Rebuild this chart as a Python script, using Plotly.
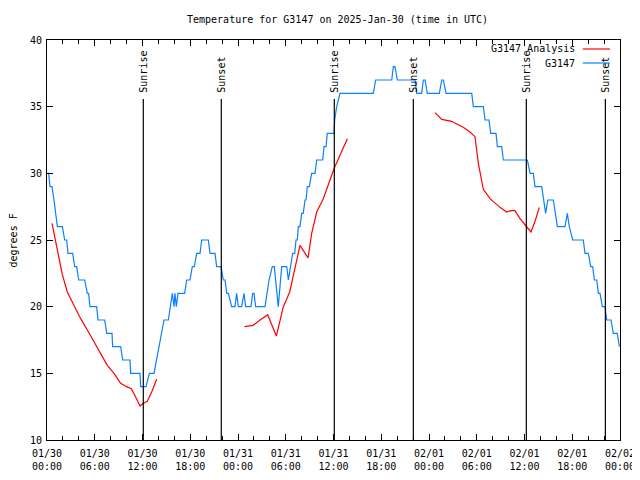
import plotly.graph_objects as go
import pandas as pd

START = pd.Timestamp("2025-01-30 00:00")
END = pd.Timestamp("2025-02-02 00:00")

# Observed G3147 temperature (hours after start, deg F)
obs_hours = [0.04, 0.21, 0.38, 0.63, 0.88, 1.13, 1.30, 1.93, 2.22, 2.47, 2.64, 3.23, 3.48, 3.73, 3.98, 4.73,
             5.07, 5.23, 5.40, 6.24, 6.41, 7.25, 7.50, 8.17, 8.25, 9.26, 9.51, 10.43, 10.51, 11.69, 11.77, 12.44,
             12.86, 13.45, 13.74, 14.07, 14.37, 14.70, 15.25, 15.46, 15.75, 15.96, 16.08, 16.25, 16.46, 17.30,
             17.55, 17.97, 18.26, 18.51, 18.81, 19.23, 19.44, 20.27, 20.48, 21.11, 21.32, 21.86, 22.16, 22.37,
             22.58, 22.79, 23.20, 23.62, 23.83, 24.04, 24.46, 24.75, 24.96, 25.63, 25.85, 26.01, 26.22, 27.39,
             27.60, 27.90, 28.31, 28.56, 29.06, 29.49, 30.12, 30.33, 30.87, 31.12, 31.29, 31.45, 31.58, 31.79,
             32.00, 32.20, 32.42, 32.55, 32.71, 32.96, 33.26, 33.68, 33.89, 34.64, 34.81, 35.06, 35.22, 36.06,
             36.15, 36.40, 36.82, 41.00, 41.30, 43.32, 43.52, 43.73, 44.02, 46.24, 46.46, 47.08, 47.29, 47.50,
             47.79, 49.30, 49.60, 49.80, 50.14, 53.37, 53.57, 54.83, 55.04, 55.54, 55.75, 56.42, 56.59, 57.14,
             57.34, 60.36, 60.70, 61.11, 61.32, 62.16, 62.66, 62.92, 63.62, 63.84, 64.13, 65.09, 65.38, 65.63,
             66.06, 67.39, 67.60, 68.02, 68.32, 68.57, 68.78, 69.08, 69.28, 69.49, 69.78, 70.12, 70.33, 70.87,
             71.16, 71.66, 71.92]
obs_temps = [30, 30, 29, 29, 28, 27, 26, 26, 25, 25, 24, 24, 23, 23, 22, 22,
             21, 21, 20, 20, 19, 19, 18, 18, 17, 17, 16, 16, 15, 15, 14, 14,
             15, 15, 16, 17, 18, 19, 19, 20, 21, 20, 21, 20, 21, 21,
             22, 22, 23, 23, 24, 24, 25, 25, 24, 24, 23, 23, 22, 22,
             21, 21, 20, 20, 21, 20, 20, 21, 20, 20, 21, 21, 20, 20,
             21, 22, 23, 23, 20, 23, 23, 22, 24, 24, 25, 25, 26, 26,
             27, 27, 28, 28, 29, 29, 30, 30, 31, 31, 32, 32, 33, 33,
             34, 35, 36, 36, 37, 37, 38, 38, 37, 37, 36, 36, 37, 37,
             36, 36, 37, 37, 36, 36, 35, 35, 34, 34, 33, 33, 32, 32,
             31, 31, 30, 30, 29, 29, 27, 28, 28, 27, 26, 26, 27, 26,
             25, 25, 24, 24, 23, 23, 22, 22, 21, 21, 20, 20, 19, 19,
             18, 18, 17]

# Analysis series (None = gap)
ana_hours = [0.63, 1.09, 1.51, 1.93, 2.55, 3.39, 4.23, 5.07, 5.90, 6.74, 7.58, 8.42, 9.26, 10.0, 10.6, 11.0,
             11.69, 12.1, 12.6, 13.15, 13.78, None,
             24.8, 25.9, 26.77, 27.73, 28.82, 29.7, 30.5, 31.79, 32.8, 33.26, 33.89, 34.72, 36.1, 37.74, None,
             48.76, 49.6, 50.85, 52.3, 53.15, 53.78, 54.2, 54.83, 55.67, 56.92, 57.76, 58.3, 58.8, 59.44, 60.19,
             60.82, 61.32, 61.86]
ana_temps = [26.25, 24.9, 23.6, 22.4, 21.1, 20.1, 19.1, 18.25, 17.4, 16.5, 15.6, 15.0, 14.25, 14.0, 13.85, 13.4,
             12.55, 12.75, 12.9, 13.6, 14.55, None,
             18.5, 18.6, 19.0, 19.4, 17.8, 20.0, 21.1, 24.6, 23.65, 25.5, 27.1, 28.1, 30.4, 32.6, None,
             34.55, 34.05, 33.9, 33.45, 33.1, 32.75, 30.75, 28.8, 28.1, 27.45, 27.1, 27.2, 27.2, 26.6, 26.05,
             25.6, 26.4, 27.45]

event_hours = [12.1, 21.9, 36.1, 46.03, 60.23, 70.16]
event_labels = ["Sunrise", "Sunset", "Sunrise", "Sunset", "Sunrise", "Sunset"]

legend_names = ["G3147 Analysis", "G3147"]
RED = "#ff0000"
BLUE = "#0a80ff"
FONT = "DejaVu Sans Mono"
FS = 10


def to_time(hours):
    return [None if h is None else START + pd.Timedelta(hours=h) for h in hours]


fig = go.Figure()
fig.add_trace(go.Scatter(x=to_time(ana_hours), y=ana_temps, mode="lines", name=legend_names[0],
                         line=dict(color=RED, width=1.2), connectgaps=False))
fig.add_trace(go.Scatter(x=to_time(obs_hours), y=obs_temps, mode="lines", name=legend_names[1],
                         line=dict(color=BLUE, width=1.2)))

shapes = []
annotations = []
for h, lab in zip(event_hours, event_labels):
    t = START + pd.Timedelta(hours=h)
    shapes.append(dict(type="line", xref="x", yref="paper", x0=t, x1=t, y0=0, y1=0.8525,
                       line=dict(color="black", width=1.2)))
    annotations.append(dict(x=t, xref="x", y=0.864, yref="paper", text=lab, textangle=-90,
                            showarrow=False, xanchor="center", yanchor="bottom",
                            font=dict(family=FONT, size=FS, color="black")))

# legend drawn as gnuplot-style (text then sample line)
for i, (name, col) in enumerate(zip(legend_names, [RED, BLUE])):
    yp = 0.9775 - i * 0.035
    annotations.append(dict(x=0.925, xref="paper", y=yp, yref="paper", text=name, showarrow=False,
                            xanchor="right", yanchor="middle",
                            font=dict(family=FONT, size=FS, color="black")))
    shapes.append(dict(type="line", xref="paper", yref="paper", x0=0.935, x1=0.9825, y0=yp, y1=yp,
                       line=dict(color=col, width=1.2)))

annotations.append(dict(x=-0.0585, xref="paper", y=0.5, yref="paper", text="degrees F", textangle=-90,
                        showarrow=False, xanchor="center", yanchor="middle",
                        font=dict(family=FONT, size=FS, color="black")))

fig.update_layout(
    width=632, height=472,
    margin=dict(l=39, r=20, t=32, b=40, autoexpand=False),
    paper_bgcolor="white", plot_bgcolor="white",
    showlegend=False,
    font=dict(family=FONT, size=FS, color="black"),
    title=dict(text="Temperature for G3147 on 2025-Jan-30 (time in UTC)", x=0.5214, xanchor="center",
               y=1 - 11 / 472, yanchor="middle", font=dict(family=FONT, size=FS, color="black")),
    shapes=shapes,
    annotations=annotations,
    xaxis=dict(type="date", range=[START, END], dtick=6 * 3600 * 1000, tick0=START,
               tickformat="%m/%d<br>%H:%M", ticks="inside", ticklen=6, tickcolor="black",
               showline=True, linecolor="black", linewidth=1, mirror="allticks",
               showgrid=False, zeroline=False, automargin=False, ticklabelstandoff=4,
               minor=dict(dtick=2 * 3600 * 1000, tick0=START, ticks="inside", ticklen=4,
                          tickcolor="black", showgrid=False),
               tickfont=dict(family=FONT, size=FS, color="black")),
    yaxis=dict(range=[10, 40], dtick=5, ticks="inside", ticklen=6, tickcolor="black",
               showline=True, linecolor="black", linewidth=1, mirror="allticks",
               showgrid=False, zeroline=False, automargin=False, ticklabelstandoff=2,
               tickfont=dict(family=FONT, size=FS, color="black")),
)

fig.write_html("out.html")
